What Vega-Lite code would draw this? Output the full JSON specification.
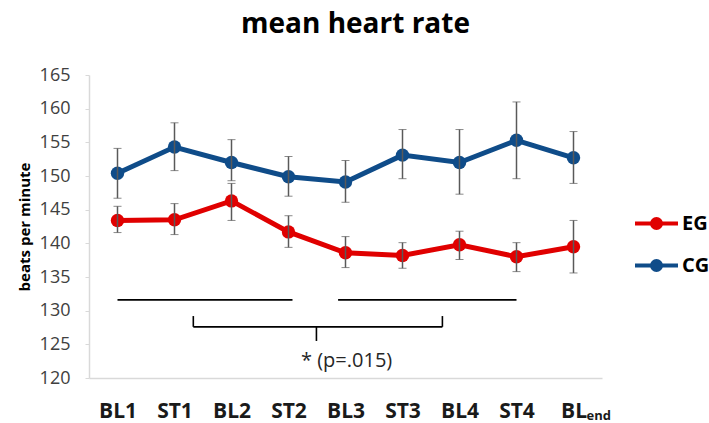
{
  "$schema": "https://vega.github.io/schema/vega-lite/v6.json",
  "width": 513,
  "height": 303,
  "autosize": "none",
  "padding": {"left": 89, "top": 75, "right": 107, "bottom": 45},
  "background": "white",
  "config": {
    "font": "Open Sans",
    "view": {"stroke": null},
    "axis": {"grid": false, "labelOverlap": false},
    "axisX": {
      "ticks": false,
      "domainColor": "#d9d9d9",
      "domainWidth": 1.5,
      "labelFont": "Open Sans",
      "labelFontSize": 21,
      "labelFontWeight": "bold",
      "labelColor": "#1a1a1a",
      "labelPadding": 22
    },
    "axisY": {
      "titleFont": "Open Sans",
      "titleFontSize": 15,
      "titleFontWeight": "bold",
      "titleColor": "#000000",
      "titlePadding": 7,
      "labelBound": false,
      "labelFlush": false,
      "ticks": true,
      "tickSize": 4,
      "tickColor": "#d9d9d9",
      "domainColor": "#d9d9d9",
      "domainWidth": 1.5,
      "labelFont": "Open Sans",
      "labelFontSize": 18,
      "labelColor": "#404040",
      "labelPadding": 15
    }
  },
  "title": {
    "text": "mean heart rate",
    "font": "Open Sans",
    "fontSize": 28,
    "fontWeight": "bold",
    "color": "#000000",
    "anchor": "middle",
    "dx": 10,
    "dy": 3,
    "offset": 30
  },
  "datasets": {
    "hr": [
      {"t": 1, "label": "BL1", "g": "CG", "m": 150.4, "lo": 146.7, "hi": 154.1},
      {"t": 2, "label": "ST1", "g": "CG", "m": 154.3, "lo": 150.8, "hi": 157.9},
      {"t": 3, "label": "BL2", "g": "CG", "m": 152.0, "lo": 149.3, "hi": 155.4},
      {"t": 4, "label": "ST2", "g": "CG", "m": 149.9, "lo": 147.0, "hi": 152.9},
      {"t": 5, "label": "BL3", "g": "CG", "m": 149.1, "lo": 146.1, "hi": 152.3},
      {"t": 6, "label": "ST3", "g": "CG", "m": 153.1, "lo": 149.6, "hi": 156.9},
      {"t": 7, "label": "BL4", "g": "CG", "m": 152.0, "lo": 147.3, "hi": 156.9},
      {"t": 8, "label": "ST4", "g": "CG", "m": 155.3, "lo": 149.6, "hi": 161.0},
      {"t": 9, "label": "BLend", "g": "CG", "m": 152.7, "lo": 148.9, "hi": 156.6},
      {"t": 1, "label": "BL1", "g": "EG", "m": 143.4, "lo": 141.6, "hi": 145.5},
      {"t": 2, "label": "ST1", "g": "EG", "m": 143.5, "lo": 141.3, "hi": 145.9},
      {"t": 3, "label": "BL2", "g": "EG", "m": 146.3, "lo": 143.4, "hi": 148.9},
      {"t": 4, "label": "ST2", "g": "EG", "m": 141.7, "lo": 139.4, "hi": 144.1},
      {"t": 5, "label": "BL3", "g": "EG", "m": 138.6, "lo": 136.4, "hi": 141.0},
      {"t": 6, "label": "ST3", "g": "EG", "m": 138.2, "lo": 136.3, "hi": 140.1},
      {"t": 7, "label": "BL4", "g": "EG", "m": 139.8, "lo": 137.6, "hi": 141.8},
      {"t": 8, "label": "ST4", "g": "EG", "m": 138.0, "lo": 135.8, "hi": 140.1},
      {"t": 9, "label": "BLend", "g": "EG", "m": 139.5, "lo": 135.6, "hi": 143.4}
    ],
    "segs": [
      {"x": 1.0, "x2": 4.07, "y": 131.6, "y2": 131.6},
      {"x": 4.87, "x2": 8.0, "y": 131.6, "y2": 131.6},
      {"x": 2.33, "x2": 6.7, "y": 127.6, "y2": 127.6},
      {"x": 2.33, "x2": 2.33, "y": 127.6, "y2": 129.2},
      {"x": 6.7, "x2": 6.7, "y": 127.6, "y2": 129.2},
      {"x": 4.49, "x2": 4.49, "y": 127.6, "y2": 125.5}
    ],
    "notes": [
      {"x": 5.02, "y": 122.5, "txt": "* (p=.015)"}
    ],
    "subs": [
      {"x": 9, "y": 120, "txt": "end"}
    ]
  },
  "encoding": {
    "x": {
      "type": "quantitative",
      "scale": {"domain": [0.5, 9.5], "nice": false, "zero": false},
      "axis": {
        "title": null,
        "values": [1, 2, 3, 4, 5, 6, 7, 8, 9],
        "labelExpr": "['','BL1','ST1','BL2','ST2','BL3','ST3','BL4','ST4','BL'][datum.value]",
        "labelOverlap": false
      }
    },
    "y": {
      "type": "quantitative",
      "scale": {"domain": [120, 165], "nice": false, "zero": false},
      "axis": {
        "title": "beats per minute",
        "values": [120, 125, 130, 135, 140, 145, 150, 155, 160, 165],
        "labelOverlap": false
      }
    }
  },
  "layer": [
    {
      "data": {"name": "segs"},
      "mark": {"type": "rule", "color": "#000000", "strokeWidth": 1.6},
      "encoding": {
        "x": {"field": "x", "type": "quantitative"},
        "x2": {"field": "x2"},
        "y": {"field": "y", "type": "quantitative"},
        "y2": {"field": "y2"}
      }
    },
    {
      "data": {"name": "hr"},
      "mark": {"type": "line", "strokeWidth": 5},
      "encoding": {
        "x": {"field": "t", "type": "quantitative"},
        "y": {"field": "m", "type": "quantitative"},
        "color": {
          "field": "g", "type": "nominal",
          "scale": {"domain": ["EG", "CG"], "range": ["#e00000", "#0f4c89"]},
          "legend": {
            "title": null,
            "orient": "none",
            "legendX": 544,
            "legendY": 125,
            "symbolType": "M-1,0L1,0M-0.21,0A0.21,0.21,0,1,1,0.21,0A0.21,0.21,0,1,1,-0.21,0Z",
            "symbolSize": 1849,
            "symbolStrokeWidth": 4,
            "labelFont": "Open Sans",
            "labelFontSize": 20,
            "labelFontWeight": "bold",
            "labelColor": "#000000",
            "labelOffset": 2,
            "rowPadding": 5,
            "encode": {
              "symbols": {
                "update": {
                  "fill": {"scale": "color", "field": "value"},
                  "stroke": {"scale": "color", "field": "value"},
                  "strokeWidth": {"value": 4},
                  "fillOpacity": {"value": 1}
                }
              }
            }
          }
        }
      }
    },
    {
      "data": {"name": "hr"},
      "mark": {"type": "point", "filled": true, "size": 180, "opacity": 1},
      "encoding": {
        "x": {"field": "t", "type": "quantitative"},
        "y": {"field": "m", "type": "quantitative"},
        "color": {"field": "g", "type": "nominal"}
      }
    },
    {
      "data": {"name": "hr"},
      "mark": {"type": "errorbar", "ticks": {"size": 8, "color": "#595959", "strokeWidth": 1.5}, "rule": {"color": "#595959", "strokeWidth": 1.5}},
      "encoding": {
        "x": {"field": "t", "type": "quantitative"},
        "y": {"field": "lo", "type": "quantitative"},
        "y2": {"field": "hi"}
      }
    },
    {
      "data": {"name": "notes"},
      "mark": {"type": "text", "font": "Open Sans", "fontSize": 20, "color": "#262626", "baseline": "middle", "align": "center"},
      "encoding": {
        "x": {"field": "x", "type": "quantitative"},
        "y": {"field": "y", "type": "quantitative"},
        "text": {"field": "txt"}
      }
    },
    {
      "data": {"name": "subs"},
      "mark": {"type": "text", "font": "Open Sans", "fontSize": 13, "fontWeight": "bold", "color": "#1a1a1a", "baseline": "middle", "align": "left", "dx": 13, "dy": 38},
      "encoding": {
        "x": {"field": "x", "type": "quantitative"},
        "y": {"field": "y", "type": "quantitative"},
        "text": {"field": "txt"}
      }
    }
  ]
}
